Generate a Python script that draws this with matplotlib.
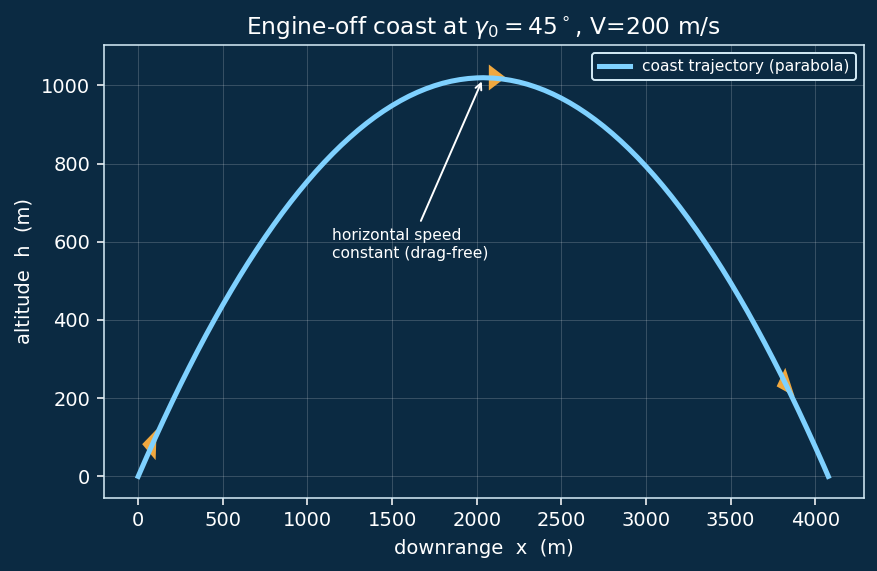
import matplotlib
matplotlib.use("Agg")
import matplotlib.pyplot as plt
from matplotlib.markers import MarkerStyle
from matplotlib.path import Path
from matplotlib.transforms import Affine2D

# Coast trajectory samples: downrange (m) and altitude (m)
downrange = [0, 50, 100, 150, 200, 250, 300, 350, 400, 450, 500, 550, 600, 650, 700,
             750, 800, 850, 900, 950, 1000, 1050, 1100, 1150, 1200, 1250, 1300, 1350,
             1400, 1450, 1500, 1550, 1600, 1650, 1700, 1750, 1800, 1850, 1900, 1950,
             2000, 2039, 2050, 2100, 2150, 2200, 2250, 2300, 2350, 2400, 2450, 2500,
             2550, 2600, 2650, 2700, 2750, 2800, 2850, 2900, 2950, 3000, 3050, 3100,
             3150, 3200, 3250, 3300, 3350, 3400, 3450, 3500, 3550, 3600, 3650, 3700,
             3750, 3800, 3850, 3900, 3950, 4000, 4050, 4077]
altitude = [0, 49.4, 97.5, 144.5, 190.2, 234.7, 277.9, 320, 360.8, 400.3, 438.7, 475.8,
            511.7, 546.4, 579.8, 612, 643, 672.8, 701.3, 728.6, 754.7, 779.6, 803.2,
            825.6, 846.8, 866.7, 885.5, 903, 919.3, 934.3, 948.1, 960.7, 972.1, 982.2,
            991.1, 998.8, 1005.3, 1010.5, 1014.5, 1017.3, 1018.9, 1019.4, 1019.2, 1018.3,
            1016.2, 1012.8, 1008.3, 1002.5, 995.4, 987.2, 977.7, 967, 955.1, 941.9,
            927.5, 911.9, 895.1, 877, 857.7, 837.2, 815.5, 792.5, 768.3, 742.9, 716.2,
            688.3, 659.2, 628.9, 597.3, 564.6, 530.6, 495.3, 458.8, 421.2, 382.2, 342.1,
            300.7, 258.2, 214.4, 169.3, 123, 75.6, 27, 0]

# Velocity arrowheads along the arc
arrow_x = [76, 2104, 3822]
arrow_y = [84, 1020, 238]
arrow_angle = [178, 0, 198]
arrow_length = [14, 17, 14]
arrow_width = [31, 26, 30]

x_ticks = [0, 500, 1000, 1500, 2000, 2500, 3000, 3500, 4000]
y_ticks = [0, 200, 400, 600, 800, 1000]

BG = "#0b2a42"
FG = "#ffffff"
SPINE = "#d5ecf7"
LINE = "#7fd1ff"
ORANGE = "#f0a83f"

W, H, DPI = 877, 571, 140
fig = plt.figure(figsize=(W / DPI, H / DPI), dpi=DPI, facecolor=BG)
ax = fig.add_axes([104 / W, 1 - 497.5 / H, 759.5 / W, 452.5 / H], facecolor=BG)


def head_marker(angle, length, width):
    """Triangular head with its apex along +x; returns the marker and its size in points."""
    k = 72 / DPI
    verts = [(length * 2 / 3, 0), (-length / 3, width / 2), (-length / 3, -width / 2), (0, 0)]
    path = Path(verts, [Path.MOVETO, Path.LINETO, Path.LINETO, Path.CLOSEPOLY])
    path = path.transformed(Affine2D().scale(k).rotate_deg(angle))
    # Custom marker paths are normalised to a unit box, so restore the extent
    return MarkerStyle(path), 2 * abs(path.vertices).max()


for x, y, a, l, w in zip(arrow_x, arrow_y, arrow_angle, arrow_length, arrow_width):
    marker, size = head_marker(a, l, w)
    ax.plot([x], [y], linestyle="none", marker=marker, markersize=size,
            markeredgewidth=0, color=ORANGE, zorder=2)

ax.plot(downrange, altitude, color=LINE, lw=2.6, label="coast trajectory (parabola)", zorder=3)

ax.set_xlim(-202, 4285)
ax.set_ylim(-54, 1103)
ax.set_xticks(x_ticks)
ax.set_yticks(y_ticks)
ax.grid(True, color="#ffffff", alpha=0.18, lw=0.5)
ax.set_axisbelow(True)
ax.tick_params(colors=FG, labelsize=10)
for s in ax.spines.values():
    s.set_color(SPINE)

ax.set_xlabel("downrange  x  (m)", color=FG, fontsize=10, labelpad=4.5)
ax.set_ylabel("altitude  h  (m)", color=FG, fontsize=10)
ax.set_title(r"Engine-off coast at $\gamma_0=45^\circ$, V=200 m/s", color=FG, fontsize=12, pad=5.5)

ax.annotate("horizontal speed\nconstant (drag-free)", xy=(2039, 1019), xytext=(1147, 559),
            color=FG, fontsize=8,
            arrowprops=dict(arrowstyle="->", color=FG, lw=1))

leg = ax.legend(loc="upper right", fontsize=8, facecolor=BG, edgecolor=SPINE, framealpha=1)
for t in leg.get_texts():
    t.set_color(FG)

fig.savefig("out.png", dpi=DPI, facecolor=BG)
